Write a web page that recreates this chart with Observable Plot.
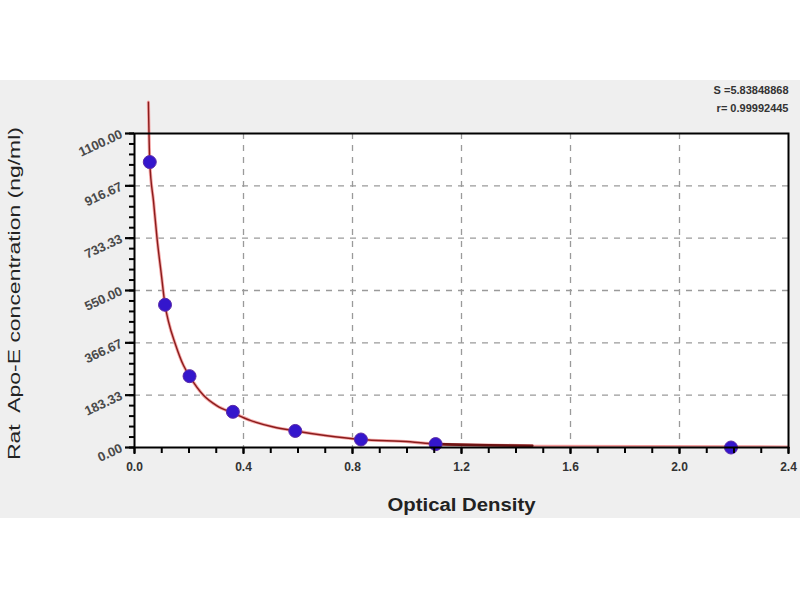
<!DOCTYPE html>
<html>
<head>
<meta charset="utf-8">
<script src="https://cdn.jsdelivr.net/npm/d3@7"></script>
<script src="https://cdn.jsdelivr.net/npm/@observablehq/plot@0.6"></script>
<style>
  html, body { margin: 0; padding: 0; background: #ffffff; }
  #chart svg { display: block; }
</style>
</head>
<body>
<div id="chart"></div>
<script>
// Standard points (Optical Density vs concentration)
const odValues = [0.056, 0.112, 0.202, 0.361, 0.590, 0.831, 1.105, 2.189];
const concValues = [1000, 500, 250, 125, 58, 28, 12, 0];

// Fitted curve
const curveOD = [0.051, 0.056, 0.070, 0.083, 0.098, 0.112, 0.125, 0.150, 0.180, 0.202, 0.254, 0.303, 0.361, 0.425, 0.510, 0.590, 0.700, 0.831, 1.012, 1.105, 1.300, 1.460];
const curveConc = [1210, 1000, 860, 730, 610, 500, 440, 362, 287, 250, 182, 146, 121, 95, 72, 58, 42, 28, 20, 12, 8, 6];
// light tail of the curve
const tailOD = [1.46, 2.4];
const tailConc = [5, 3];

// Ticks
const xTicks = [0, 0.4, 0.8, 1.2, 1.6, 2.0, 2.4];
const xMinor = d3.range(0, 25).map(i => i / 10);
const yTicks = [0, 183.33, 366.67, 550, 733.33, 916.67, 1100];
const yTickLabels = ["0.00", "183.33", "366.67", "550.00", "733.33", "916.67", "1100.00"];
const yMinor = d3.range(0, 31).map(i => i * 1100 / 30);

const statLines = ["S =5.83848868", "r= 0.99992445"];
const xTitle = "Optical Density";
const yTitle = "Rat  Apo-E concentration (ng/ml)";

const points = odValues.map((x, i) => ({x, y: concValues[i]}));
const curve = curveOD.map((x, i) => ({x, y: curveConc[i]}));
const curveDark = curve.filter(d => d.x >= 1.1);
const tail = tailOD.map((x, i) => ({x, y: tailConc[i]}));

const font = "Arial, 'Liberation Sans', sans-serif";

const chart = Plot.plot({
  width: 800,
  height: 600,
  marginLeft: 134,
  marginRight: 12,
  marginTop: 133,
  marginBottom: 153,
  style: {
    fontFamily: font,
    background: "linear-gradient(to bottom, #ffffff 0px, #ffffff 80px, #efefef 80px, #efefef 518px, #ffffff 518px)",
    overflow: "visible"
  },
  x: {domain: [0, 2.4]},
  y: {domain: [0, 1100]},
  marks: [
    Plot.frame({fill: "white", stroke: "none"}),
    Plot.ruleY(yTicks.slice(1, -1), {stroke: "#9a9a9a", strokeWidth: 1.3, strokeDasharray: "6,6"}),
    Plot.ruleX(xTicks.slice(1, -1), {stroke: "#9a9a9a", strokeWidth: 1.3, strokeDasharray: "6,6"}),
    // curve: pink halo + dark red core
    Plot.line(tail, {x: "x", y: "y", stroke: "#f29a9a", strokeWidth: 2.5}),
    Plot.line(curve, {x: "x", y: "y", curve: "monotone-x", stroke: "#f4a6a6", strokeWidth: 3.2, clip: false}),
    Plot.line(curve, {x: "x", y: "y", curve: "monotone-x", stroke: "#8a1c1c", strokeWidth: 1.4, clip: false}),
    Plot.line(curveDark, {x: "x", y: "y", curve: "monotone-x", stroke: "#6e1414", strokeWidth: 2.6}),
    // standard points
    Plot.dot(points, {x: "x", y: "y", r: 6.5, fill: "#3416cc", stroke: "#5b2aa8", strokeWidth: 1}),
    // axes
    Plot.axisX({ticks: xMinor, tickSize: 6, tickFormat: () => "", strokeWidth: 2, label: null}),
    Plot.axisX({ticks: xTicks, tickSize: 7, tickPadding: 8, tickFormat: d => d.toFixed(1),
      fontSize: 12, fontWeight: "bold", fill: "#333", strokeWidth: 2, label: null}),
    Plot.axisY({ticks: yMinor, tickSize: 5, tickFormat: () => "", strokeWidth: 2, label: null}),
    Plot.axisY({ticks: yTicks, tickSize: 9, tickPadding: 4,
      tickFormat: d => yTickLabels[yTicks.indexOf(d)],
      tickRotate: -25, textAnchor: "end",
      fontSize: 13, fontWeight: "bold", fill: "#4a4a4a", strokeWidth: 2.2, label: null}),
    Plot.frame({stroke: "#000", strokeWidth: 2}),
    // titles
    Plot.text([xTitle], {text: d => d, frameAnchor: "bottom", dy: 63, fontSize: 18, fontWeight: "bold", fill: "#222"}),
    Plot.text([yTitle], {text: d => d, frameAnchor: "left", textAnchor: "middle", dx: -120, dy: 3, rotate: -90, fontSize: 17, fill: "#222"}),
    Plot.text(statLines, {text: d => d, frameAnchor: "top-right", textAnchor: "end",
      fontSize: 11, fontWeight: "bold", fill: "#333", filter: (d, i) => i === 0, dy: -47}),
    Plot.text(statLines, {text: d => d, frameAnchor: "top-right", textAnchor: "end",
      fontSize: 11, fontWeight: "bold", fill: "#333", filter: (d, i) => i === 1, dy: -29})
  ]
});

// stretch the titles to the reference's text lengths
const svgSel = d3.select(chart);
svgSel.selectAll("text").filter(function() { return this.textContent === yTitle; })
  .attr("textLength", 333).attr("lengthAdjust", "spacingAndGlyphs");
svgSel.selectAll("text").filter(function() { return this.textContent === xTitle; })
  .attr("textLength", 148).attr("lengthAdjust", "spacingAndGlyphs");

document.getElementById("chart").appendChild(chart);
</script>
</body>
</html>
